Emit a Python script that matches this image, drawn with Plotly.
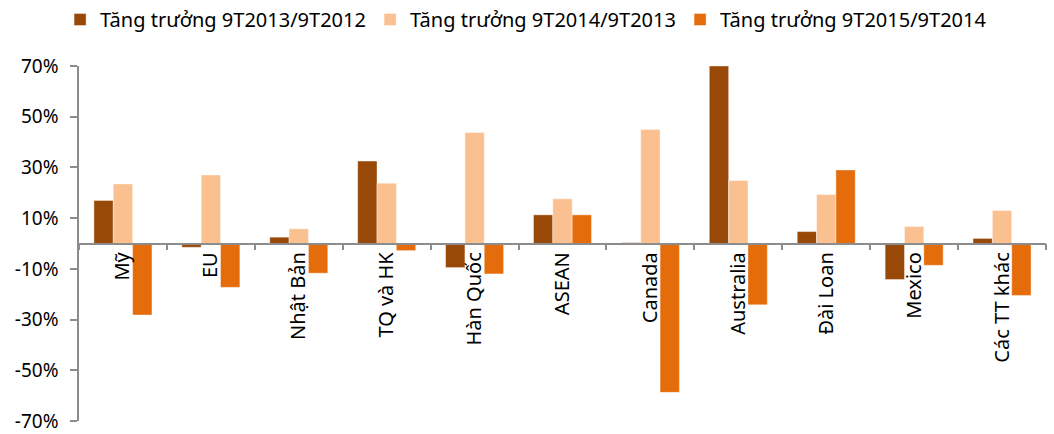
import plotly.graph_objects as go

categories = ["Mỹ", "EU", "Nhật Bản", "TQ và HK", "Hàn Quốc", "ASEAN", "Canada",
              "Australia", "Đài Loan", "Mexico", "Các TT khác"]
series_names = ["Tăng trưởng 9T2013/9T2012", "Tăng trưởng 9T2014/9T2013",
                "Tăng trưởng 9T2015/9T2014"]
g2013 = [17.0, -1.5, 2.5, 32.5, -9.5, 11.3, 0.3, 70.0, 4.7, -14.2, 2.0]
g2014 = [23.5, 27.0, 5.8, 23.8, 43.8, 17.6, 45.0, 24.8, 19.3, 6.7, 13.0]
g2015 = [-28.2, -17.3, -11.7, -2.8, -12.0, 11.3, -58.7, -24.2, 29.0, -8.6, -20.5]
colors = ["#984807", "#FAC090", "#E46C0A"]
y_ticks = [70, 50, 30, 10, -10, -30, -50, -70]

fig = go.Figure()
for name, vals, col in zip(series_names, [g2013, g2014, g2015], colors):
    fig.add_trace(go.Bar(x=categories, y=vals, name=name, marker_color=col,
                         marker_line=dict(color="rgba(255,255,255,0.5)", width=0.8)))

font_family = "Noto Sans"
fig.update_layout(
    width=1054, height=434,
    margin=dict(l=79, r=8, t=66, b=13, autoexpand=False),
    paper_bgcolor="white", plot_bgcolor="white",
    barmode="group", bargap=0.34, bargroupgap=0,
    font=dict(family=font_family, size=20, color="#000000"),
    legend=dict(orientation="h", xref="container", x=0.057, xanchor="left",
                yref="container", y=1.0, yanchor="top", font=dict(size=20),
                traceorder="normal", itemwidth=30, entrywidth=265,
                entrywidthmode="pixels"),
    xaxis=dict(anchor="free", position=0.5, showline=True, linecolor="#8C8C8C", linewidth=1.5,
               ticks="outside", tickson="boundaries", ticklen=6, tickcolor="#8C8C8C",
               tickwidth=1.5, tickangle=-90, tickfont=dict(size=20), showgrid=False,
               zeroline=False),
    yaxis=dict(range=[-70, 70], tickvals=y_ticks, ticktext=[f"{v}%" for v in y_ticks],
               showline=True, linecolor="#8C8C8C", linewidth=1.5, ticks="outside",
               ticklen=7, tickcolor="#8C8C8C", tickwidth=1.5, showgrid=False,
               zeroline=False, tickfont=dict(size=19), ticklabelstandoff=8,
               ticklabeloverflow="allow"),
)
fig.write_html("out.html", config={"displayModeBar": False},
               post_script="document.body.style.margin='0';")
